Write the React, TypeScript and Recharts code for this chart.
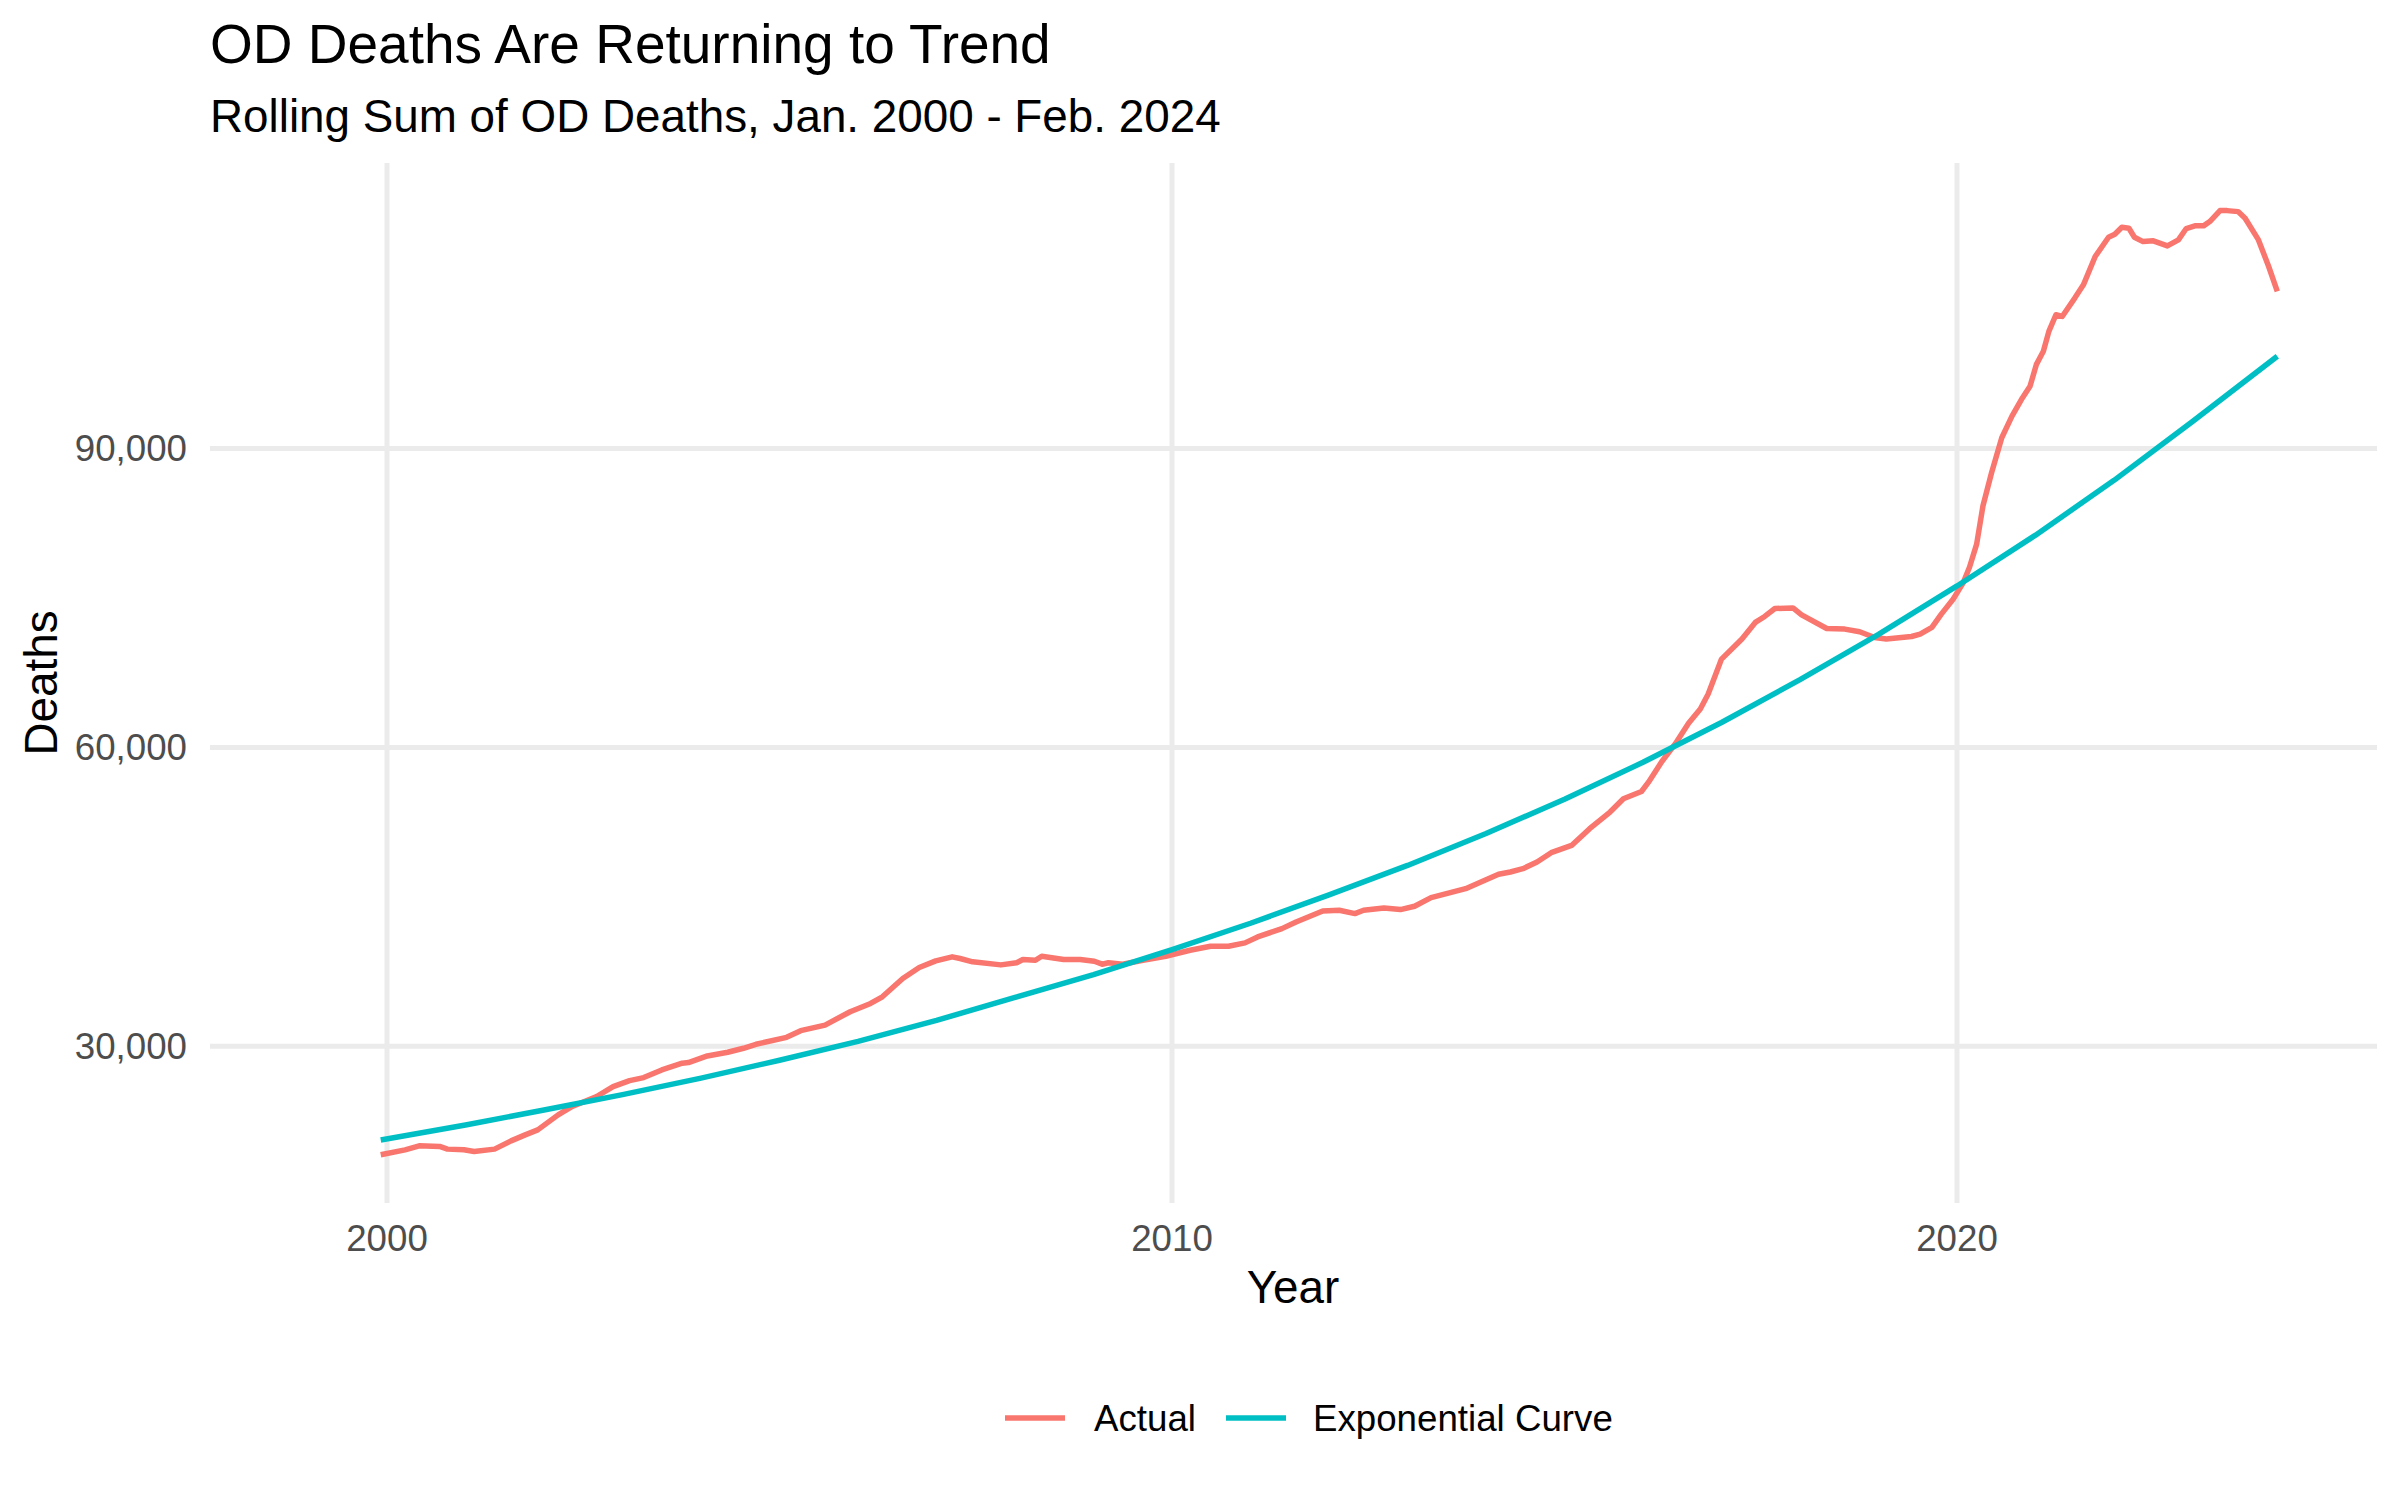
import { LineChart, Line, XAxis, YAxis, CartesianGrid } from "recharts";

// rolling 12-month sum (decimal year -> deaths)
const actualYears = [
  1999.92, 2000.23, 2000.41, 2000.67, 2000.77, 2000.98, 2001.11, 2001.37, 2001.58, 2001.76,
  2001.92, 2002.18, 2002.36, 2002.67, 2002.88, 2003.09, 2003.27, 2003.5, 2003.76, 2003.84,
  2004.08, 2004.34, 2004.54, 2004.7, 2005.09, 2005.27, 2005.58, 2005.9, 2006.16, 2006.31,
  2006.57, 2006.78, 2006.99, 2007.2, 2007.3, 2007.46, 2007.82, 2008.02, 2008.1, 2008.26,
  2008.34, 2008.62, 2008.83, 2009.01, 2009.11, 2009.19, 2009.37, 2009.63, 2009.92, 2010.23,
  2010.49, 2010.72, 2010.93, 2011.09, 2011.4, 2011.58, 2011.92, 2012.13, 2012.33, 2012.44,
  2012.7, 2012.91, 2013.09, 2013.3, 2013.74, 2014.0, 2014.16, 2014.31, 2014.47, 2014.65,
  2014.83, 2015.09, 2015.32, 2015.58, 2015.75, 2015.98, 2016.07, 2016.24, 2016.41, 2016.58,
  2016.73, 2016.83, 2017.0, 2017.26, 2017.43, 2017.55, 2017.68, 2017.91, 2018.02, 2018.34,
  2018.57, 2018.76, 2018.95, 2019.1, 2019.42, 2019.53, 2019.68, 2019.8, 2019.95, 2020.08,
  2020.16, 2020.25, 2020.33, 2020.44, 2020.57, 2020.7, 2020.82, 2020.93, 2021.01, 2021.1,
  2021.17, 2021.26, 2021.34, 2021.5, 2021.61, 2021.76, 2021.93, 2022.01, 2022.1, 2022.19,
  2022.26, 2022.37, 2022.5, 2022.68, 2022.82, 2022.92, 2023.03, 2023.14, 2023.22, 2023.35,
  2023.44, 2023.58, 2023.67, 2023.84, 2023.97, 2024.08,
];
const actualDeaths = [
  19110, 19610, 20010, 19950, 19680, 19610, 19450, 19680, 20510, 21110,
  21610, 23120, 23960, 24960, 25960, 26560, 26860, 27630, 28300, 28370,
  29030, 29400, 29800, 30200, 30900, 31570, 32130, 33470, 34300, 34970,
  36810, 37910, 38570, 38980, 38810, 38480, 38170, 38380, 38710, 38640,
  39040, 38710, 38710, 38540, 38240, 38380, 38240, 38640, 39040, 39640,
  40040, 40040, 40380, 40980, 41810, 42480, 43580, 43650, 43320, 43650,
  43890, 43720, 44050, 44920, 45820, 46720, 47260, 47490, 47830, 48500,
  49430, 50160, 51840, 53510, 54840, 55570, 56510, 58580, 60350, 62420,
  63860, 65360, 68860, 70870, 72540, 73140, 73940, 74000, 73300, 71930,
  71870, 71600, 71030, 70870, 71130, 71370, 72040, 73370, 74870, 76540,
  78100, 80400, 84220, 87560, 91070, 93240, 94910, 96240, 98410, 99750,
  101750, 103420, 103250, 105090, 106420, 109260, 111200, 111500, 112200, 112100,
  111200, 110760, 110840, 110330, 110930, 112070, 112340, 112340, 112770, 113870,
  113870, 113770, 113100, 110930, 108260, 105760,
];

// fitted exponential curve
const trendYears = [
  1999.92, 2001, 2002, 2003, 2004, 2005, 2006, 2007, 2008, 2009, 2010, 2011, 2012,
  2013, 2014, 2015, 2016, 2017, 2018, 2019, 2020, 2021, 2022, 2023, 2024.08,
];
const trendDeaths = [
  20600, 22100, 23600, 25150, 26800, 28600, 30500, 32600, 34900, 37200, 39700, 42350, 45200,
  48150, 51350, 54800, 58500, 62500, 66800, 71350, 76200, 81300, 86800, 92700, 99250,
];

const yearTicks = [2000, 2010, 2020];
const deathTicks = [30000, 60000, 90000];

const seriesNames = ["Actual", "Exponential Curve"];
const COLORS = ["#F8766D", "#00BFC4"];

const FONT = "'Liberation Sans', Arial, Helvetica, sans-serif";

// one table for the chart, each line skips the rows of the other
const rows: { year: number; actual?: number; trend?: number }[] = [];
actualYears.forEach((y, i) => rows.push({ year: y, actual: actualDeaths[i] }));
trendYears.forEach((y, i) => rows.push({ year: y, trend: trendDeaths[i] }));
rows.sort((a, b) => a.year - b.year);

export default function App() {
  const W = 2400;
  const H = 1500;

  return (
    <div style={{ position: "absolute", left: 0, top: 0, width: W, height: H, background: "#fff", fontFamily: FONT }}>
      <LineChart
        width={W}
        height={H}
        data={rows}
        margin={{ top: 163, right: 23, bottom: 237, left: 0 }}
      >
        <CartesianGrid
          stroke="#ebebeb"
          strokeWidth={5}
          horizontalValues={deathTicks}
          verticalValues={yearTicks}
        />
        <XAxis
          dataKey="year"
          type="number"
          domain={[1997.745, 2025.35]}
          allowDataOverflow
          ticks={yearTicks}
          height={60}
          axisLine={false}
          tickLine={false}
          tickSize={0}
          tickMargin={22}
          tick={{ fill: "#4d4d4d", fontSize: 36.7, fontFamily: FONT }}
        />
        <YAxis
          type="number"
          domain={[14273, 118649]}
          allowDataOverflow
          ticks={deathTicks}
          width={210}
          axisLine={false}
          tickLine={false}
          tickSize={0}
          tickMargin={23}
          tickFormatter={(v: number) => v.toLocaleString("en-US")}
          tick={{ fill: "#4d4d4d", fontSize: 36.7, fontFamily: FONT }}
        />
        <Line
          dataKey="actual"
          name={seriesNames[0]}
          stroke={COLORS[0]}
          strokeWidth={5.5}
          dot={false}
          connectNulls
          strokeLinejoin="round"
          isAnimationActive={false}
        />
        <Line
          dataKey="trend"
          name={seriesNames[1]}
          stroke={COLORS[1]}
          strokeWidth={5.5}
          dot={false}
          connectNulls
          strokeLinejoin="round"
          isAnimationActive={false}
        />
      </LineChart>

      <svg
        width={W}
        height={H}
        style={{ position: "absolute", left: 0, top: 0, pointerEvents: "none" }}
        fontFamily={FONT}
      >
        <text x={210} y={63} fontSize={55} fill="#000">
          OD Deaths Are Returning to Trend
        </text>
        <text x={210} y={132} fontSize={45.8} fill="#000">
          Rolling Sum of OD Deaths, Jan. 2000 - Feb. 2024
        </text>
        <text x={1293} y={1303} fontSize={45.8} fill="#000" textAnchor="middle">
          Year
        </text>
        <text x={57} y={683} fontSize={45.8} fill="#000" textAnchor="middle" transform="rotate(-90 57 683)">
          Deaths
        </text>

        {/* legend */}
        <line x1={1005} x2={1065} y1={1418} y2={1418} stroke={COLORS[0]} strokeWidth={5.5} />
        <text x={1094} y={1431} fontSize={36.7} fill="#000">
          {seriesNames[0]}
        </text>
        <line x1={1226} x2={1286} y1={1418} y2={1418} stroke={COLORS[1]} strokeWidth={5.5} />
        <text x={1313} y={1431} fontSize={36.7} fill="#000">
          {seriesNames[1]}
        </text>
      </svg>
    </div>
  );
}
